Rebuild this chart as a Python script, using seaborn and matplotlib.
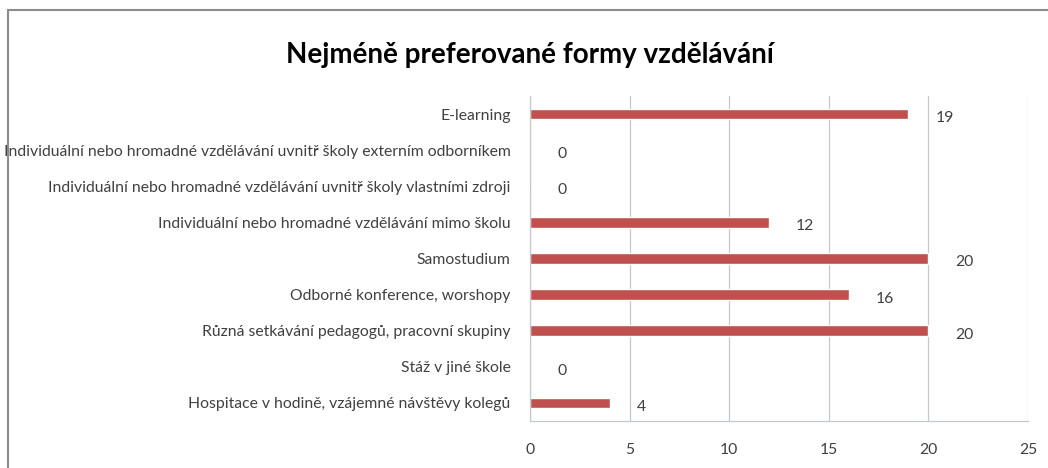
import matplotlib
matplotlib.use("Agg")
import matplotlib.pyplot as plt
import seaborn as sns
import pandas as pd
from matplotlib.patches import Rectangle

categories = [
    "E-learning",
    "Individuální nebo hromadné vzdělávání uvnitř školy externím odborníkem",
    "Individuální nebo hromadné vzdělávání uvnitř školy vlastními zdroji",
    "Individuální nebo hromadné vzdělávání mimo školu",
    "Samostudium",
    "Odborné konference, worshopy",
    "Různá setkávání pedagogů, pracovní skupiny",
    "Stáž v jiné škole",
    "Hospitace v hodině, vzájemné návštěvy kolegů",
]
values = [19, 0, 0, 12, 20, 16, 20, 0, 4]
x_ticks = [0, 5, 10, 15, 20, 25]
title = "Nejméně preferované formy vzdělávání"

sns.set_theme(style="white")
plt.rcParams['font.family'] = ['Lato', 'DejaVu Sans']

df = pd.DataFrame({"cat": categories, "val": values})

fig = plt.figure(figsize=(10.48, 4.68), dpi=100)
ax = fig.add_axes([530/1048, 1 - 421/468, (1028-530)/1048, (421-96)/468])

sns.barplot(data=df, x="val", y="cat", orient="h", color="#C0504D",
            saturation=1, width=0.3, ax=ax)

ax.set_xlim(0, 25)
ax.set_xticks(x_ticks)
ax.set_xticklabels([str(t) for t in x_ticks], fontsize=11.3, color="#404040")
ax.tick_params(axis='y', labelsize=11.3, labelcolor="#404040", length=0, pad=14)
ax.tick_params(axis='x', length=0, pad=16)
ax.set_xlabel("")
ax.set_ylabel("")
ax.grid(axis='x', color="#C4C8CC", linewidth=0.9)
ax.set_axisbelow(True)
for s in ["top", "right"]:
    ax.spines[s].set_visible(False)
ax.spines["left"].set_color("#C4C8CC")
ax.spines["bottom"].set_color("#C4C8CC")
ax.spines["left"].set_linewidth(0.9)
ax.spines["bottom"].set_linewidth(0.9)

for i, v in enumerate(values):
    ax.annotate(str(v), xy=(v, i), xytext=(27, -4), textcoords="offset pixels",
                ha="left", va="center", fontsize=11.3, color="#404040")

fig.text(530/1048, 1 - 55/468, title, ha="center", va="center",
         fontsize=20, fontweight="bold", color="black")

fig.patches.append(Rectangle((8/1048, -0.1), 1.2, 1 - 10/468 + 0.1,
                             transform=fig.transFigure, fill=False,
                             edgecolor="#8C8C8C", linewidth=1.5))

fig.savefig("out.png", dpi=100)
